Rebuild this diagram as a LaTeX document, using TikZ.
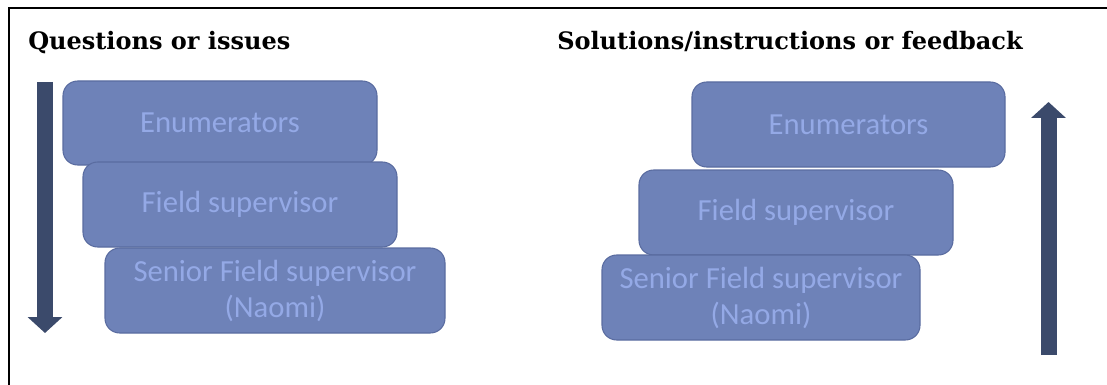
\documentclass[tikz,border=0pt]{standalone}
\usepackage{fontspec}
\newfontfamily\boxfont{Carlito}
\newfontfamily\headfont{DejaVu Serif}
\usetikzlibrary{arrows.meta}

\definecolor{boxfill}{HTML}{6E82B8}
\definecolor{boxline}{HTML}{5A6CA0}
\definecolor{boxtext}{HTML}{94A9E6}
\definecolor{arrowblue}{HTML}{3B4A6B}

\tikzset{
    levelbox/.style={draw=boxline, fill=boxfill, rounded corners=11pt,
        line width=0.8pt, inner sep=0pt, align=center,
        text=boxtext, font=\boxfont\fontsize{23}{27}\selectfont},
    heading/.style={anchor=base west, inner sep=0pt,
        font=\headfont\bfseries\fontsize{18}{22}\selectfont},
    flow/.style={arrowblue, line width=12pt,
        -{Triangle[width=25.5pt,length=12pt]}}
}

\begin{document}
\begin{tikzpicture}[x=0.75pt,y=-0.75pt]
    % Page area and frame
    \useasboundingbox (0,0) rectangle (1107,385);
    \draw[line width=1.2pt] (9,385) -- (9,8) -- (1107,8);

    % Headings
    \node[heading] (askhead) at (28,50) {Questions or issues};
    \node[heading] (answerhead) at (557,50) {Solutions/instructions or feedback};

    % Left stack: questions go down
    \node[levelbox, minimum width=314*0.75pt, minimum height=84*0.75pt]
        (askenum) at (220,123) {Enumerators};
    \node[levelbox, minimum width=314*0.75pt, minimum height=85*0.75pt]
        (askfield) at (240,204.5) {Field supervisor};
    \node[levelbox, minimum width=340*0.75pt, minimum height=85*0.75pt]
        (asksenior) at (275,290.5) {Senior Field supervisor\\(Naomi)};

    % Right stack: answers go up
    \node[levelbox, minimum width=313*0.75pt, minimum height=85*0.75pt]
        (answerenum) at (848.5,124.5) {Enumerators};
    \node[levelbox, minimum width=314*0.75pt, minimum height=85*0.75pt]
        (answerfield) at (796,212.5) {Field supervisor};
    \node[levelbox, minimum width=318*0.75pt, minimum height=85*0.75pt]
        (answersenior) at (761,297.5) {Senior Field supervisor\\(Naomi)};

    % Direction arrows
    \coordinate (downtop) at (45,82);
    \coordinate (downtip) at (45,333);
    \coordinate (upfoot) at (1048.5,355);
    \coordinate (uptip) at (1048.5,102);
    \draw[flow] (downtop) -- (downtip);
    \draw[flow] (upfoot) -- (uptip);
\end{tikzpicture}
\end{document}
